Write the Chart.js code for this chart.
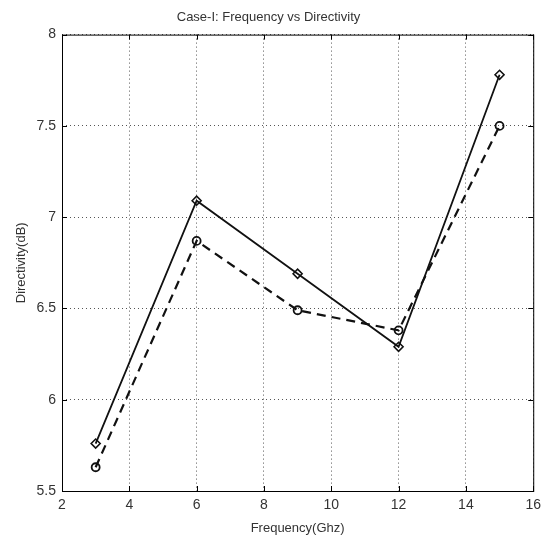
<!DOCTYPE html>
<html>
<head>
<meta charset="utf-8">
<script src="https://cdn.jsdelivr.net/npm/chart.js@4"></script>
<style>
  html, body { margin: 0; padding: 0; background: #fff; }
  #wrap { width: 547px; height: 540px; }
</style>
</head>
<body>
<div id="wrap"><canvas id="chart"></canvas></div>
<script>
const frequency = [3, 6, 9, 12, 15];
const directivitySolid = [5.76, 7.09, 6.69, 6.29, 7.78];
const directivityDashed = [5.63, 6.87, 6.49, 6.38, 7.50];
const xTicks = [2, 4, 6, 8, 10, 12, 14, 16];
const yTicks = [5.5, 6, 6.5, 7, 7.5, 8];

const font = "'Liberation Sans Narrow', 'Arial Narrow', 'Liberation Sans', sans-serif";

// box round the plot area, like MATLAB
const boxPlugin = {
    id: "box",
    afterDraw(chart) {
        const a = chart.chartArea, ctx = chart.ctx;
        ctx.save();
        ctx.strokeStyle = "#000";
        ctx.lineWidth = 1;
        ctx.strokeRect(a.left + 0.5, a.top + 0.5, a.right - a.left, a.bottom - a.top);
        // inward tick marks
        const xs = chart.scales.x, ys = chart.scales.y;
        ctx.beginPath();
        xTicks.forEach(v => {
            const px = Math.round(xs.getPixelForValue(v)) + 0.5;
            ctx.moveTo(px, a.bottom); ctx.lineTo(px, a.bottom - 5);
            ctx.moveTo(px, a.top); ctx.lineTo(px, a.top + 5);
        });
        yTicks.forEach(v => {
            const py = Math.round(ys.getPixelForValue(v)) + 0.5;
            ctx.moveTo(a.left, py); ctx.lineTo(a.left + 5, py);
            ctx.moveTo(a.right, py); ctx.lineTo(a.right - 5, py);
        });
        ctx.stroke();
        ctx.restore();
    }
};

new Chart(document.getElementById("chart"), {
    type: "line",
    data: {
        datasets: [{
            data: frequency.map((f, i) => ({ x: f, y: directivitySolid[i] })),
            borderColor: "#111",
            borderWidth: 1.8,
            pointStyle: "rectRot",
            pointRadius: 4.5,
            pointBorderWidth: 1.6,
            pointBackgroundColor: "rgba(255,255,255,0)",
            pointBorderColor: "#111",
            tension: 0
        }, {
            data: frequency.map((f, i) => ({ x: f, y: directivityDashed[i] })),
            borderColor: "#111",
            borderWidth: 2.2,
            borderDash: [9, 6],
            pointStyle: "circle",
            pointRadius: 4,
            pointBorderWidth: 1.8,
            pointBackgroundColor: "rgba(255,255,255,0)",
            pointBorderColor: "#111",
            tension: 0
        }]
    },
    options: {
        responsive: true,
        maintainAspectRatio: false,
        animation: false,
        layout: { padding: { left: 0, right: 10, top: 0, bottom: 0 } },
        plugins: {
            legend: { display: false },
            tooltip: { enabled: false },
            title: {
                display: true,
                text: "Case-I: Frequency vs Directivity",
                color: "#333",
                font: { family: font, size: 13, weight: "normal" },
                padding: { top: 10, bottom: 9 }
            }
        },
        scales: {
            x: {
                type: "linear",
                min: 2, max: 16,
                afterBuildTicks: s => { s.ticks = xTicks.map(v => ({ value: v })); },
                afterFit: s => { s.height = 49; },
                grid: {
                    color: "#555",
                    lineWidth: 1,
                    tickLength: 0,
                    drawTicks: false
                },
                border: { display: false, dash: [1, 3] },
                ticks: {
                    color: "#333",
                    padding: 6,
                    maxRotation: 0,
                    font: { family: font, size: 14 }
                },
                title: {
                    display: true,
                    text: "Frequency(Ghz)",
                    color: "#333",
                    padding: { top: 0, bottom: 4 },
                    font: { family: font, size: 13 }
                }
            },
            y: {
                min: 5.5, max: 8,
                afterBuildTicks: s => { s.ticks = yTicks.map(v => ({ value: v })); },
                afterFit: s => { s.width = 62; },
                grid: {
                    color: "#555",
                    lineWidth: 1,
                    tickLength: 0,
                    drawTicks: false
                },
                border: { display: false, dash: [1, 3] },
                ticks: {
                    color: "#333",
                    padding: 6,
                    font: { family: font, size: 14 },
                    callback: v => String(v)
                },
                title: {
                    display: true,
                    text: "Directivity(dB)",
                    color: "#333",
                    padding: { top: 14, bottom: 0 },
                    font: { family: font, size: 13 }
                }
            }
        }
    },
    plugins: [boxPlugin]
});
</script>
</body>
</html>
